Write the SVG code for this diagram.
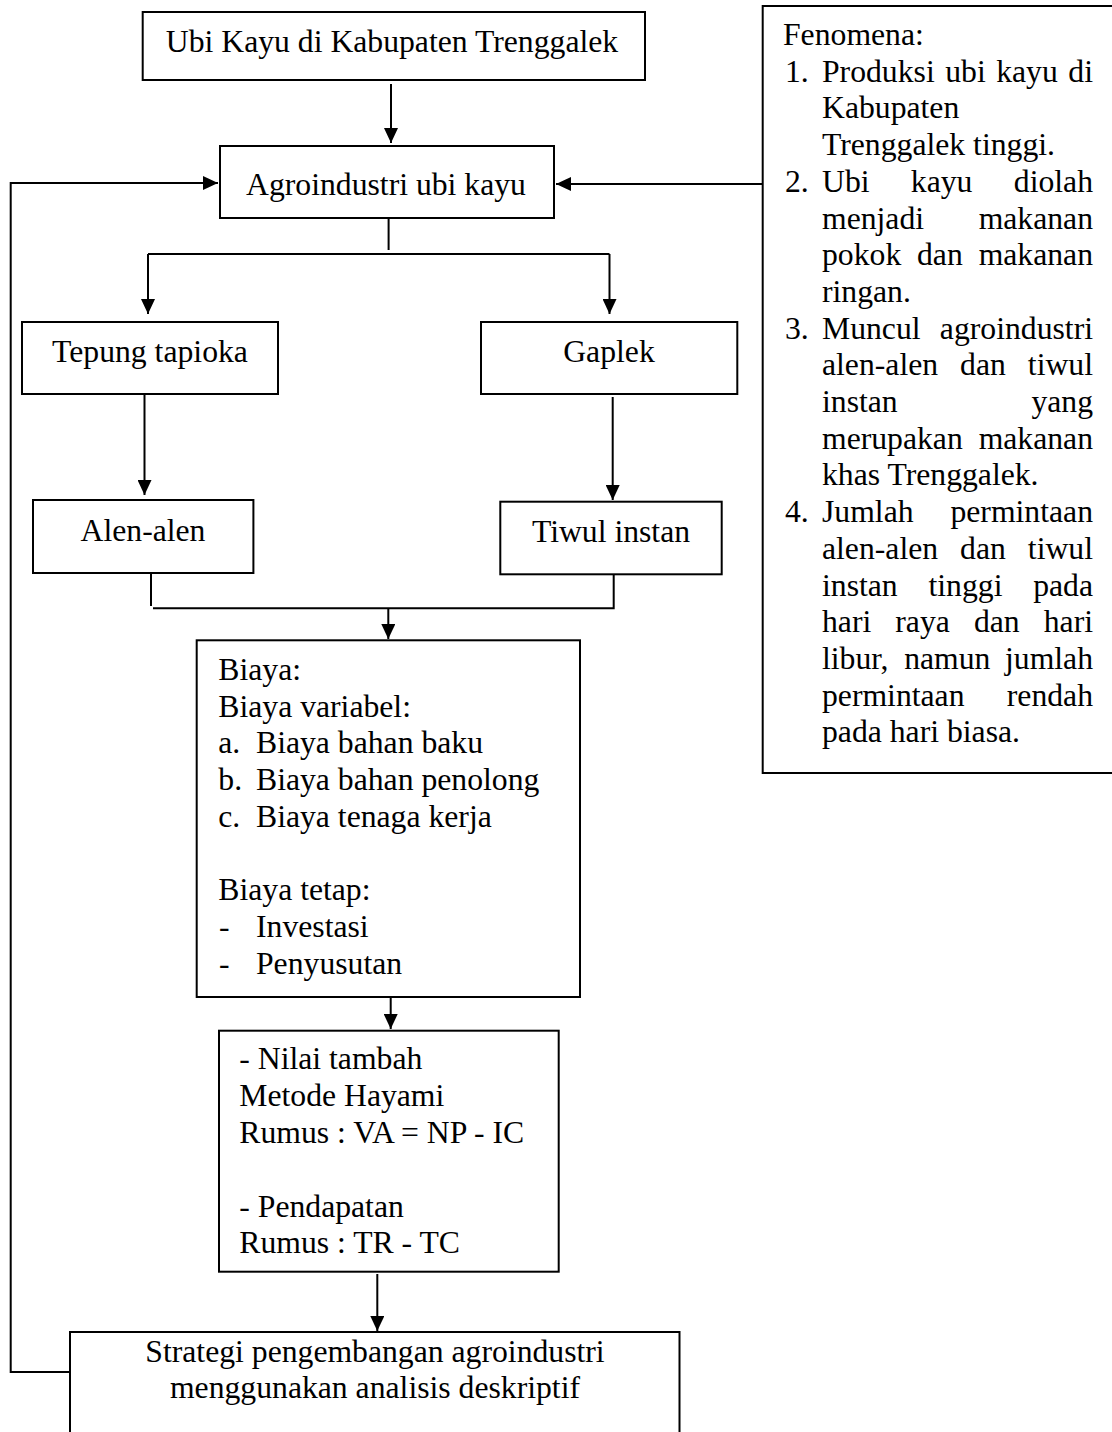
<svg xmlns="http://www.w3.org/2000/svg" width="1112" height="1432" viewBox="0 0 1112 1432">
<style>
.box{fill:#fff;stroke:#000;stroke-width:2}
.t{font-family:"Liberation Serif","Times New Roman",serif;font-size:31.7px;fill:#000}
.c{text-anchor:middle}
.e{text-anchor:end}
.ln{fill:none;stroke:#000;stroke-width:2}
</style>
<defs>
<marker id="ah" markerWidth="15" markerHeight="14" refX="15" refY="7" orient="auto" markerUnits="userSpaceOnUse">
<path d="M0,0 L15,7 L0,14 z" fill="#000"/>
</marker>
</defs>
<rect width="1112" height="1432" fill="#fff"/>

<g id="connectors">
<path class="ln" d="M391,84 V143" marker-end="url(#ah)"/>
<path class="ln" d="M70,1372 H10.7 V183 H218" marker-end="url(#ah)"/>
<path class="ln" d="M762.7,184 H556" marker-end="url(#ah)"/>
<path class="ln" d="M388.6,218 V250"/>
<path class="ln" d="M148,254 H609.5"/>
<path class="ln" d="M148,254 V314" marker-end="url(#ah)"/>
<path class="ln" d="M609.5,254 V314" marker-end="url(#ah)"/>
<path class="ln" d="M144.5,392 V495" marker-end="url(#ah)"/>
<path class="ln" d="M612.7,397 V500" marker-end="url(#ah)"/>
<path class="ln" d="M151,573 V606"/>
<path class="ln" d="M153,608.3 H613.7 V574"/>
<path class="ln" d="M388.3,608.3 V639" marker-end="url(#ah)"/>
<path class="ln" d="M390.7,997 V1029" marker-end="url(#ah)"/>
<path class="ln" d="M377.3,1274 V1331" marker-end="url(#ah)"/>
</g>

<g id="node-ubikayu">
<rect class="box" x="142.7" y="12" width="502.3" height="68"/>
<text class="t c" x="392" y="52">Ubi Kayu di Kabupaten Trenggalek</text>
</g>

<g id="node-agroindustri">
<rect class="box" x="220" y="146" width="334" height="72"/>
<text class="t c" x="386" y="195">Agroindustri ubi kayu</text>
</g>

<g id="node-tepung">
<rect class="box" x="22" y="322" width="256" height="72"/>
<text class="t c" x="150" y="362">Tepung tapioka</text>
</g>

<g id="node-gaplek">
<rect class="box" x="481" y="322" width="256.3" height="72"/>
<text class="t c" x="609" y="362">Gaplek</text>
</g>

<g id="node-alen">
<rect class="box" x="33" y="500" width="220.4" height="73"/>
<text class="t c" x="143" y="541">Alen-alen</text>
</g>

<g id="node-tiwul">
<rect class="box" x="500.3" y="501.7" width="221.4" height="72.6"/>
<text class="t c" x="611" y="542">Tiwul instan</text>
</g>

<g id="node-biaya">
<rect class="box" x="196.7" y="640.3" width="383.3" height="356.7"/>
<text class="t" x="218.3" y="680">Biaya:</text>
<text class="t" x="218.3" y="716.7">Biaya variabel:</text>
<text class="t" x="218.3" y="753.4">a.<tspan x="256">Biaya bahan baku</tspan></text>
<text class="t" x="218.3" y="790.1">b.<tspan x="256">Biaya bahan penolong</tspan></text>
<text class="t" x="218.3" y="826.8">c.<tspan x="256">Biaya tenaga kerja</tspan></text>
<text class="t" x="218.3" y="900.2">Biaya tetap:</text>
<text class="t" x="219" y="936.9">-<tspan x="256">Investasi</tspan></text>
<text class="t" x="219" y="973.6">-<tspan x="256">Penyusutan</tspan></text>
</g>

<g id="node-nilai">
<rect class="box" x="219" y="1030.7" width="339.7" height="241"/>
<text class="t" x="239.3" y="1069">- Nilai tambah</text>
<text class="t" x="239.3" y="1106">Metode Hayami</text>
<text class="t" x="239.3" y="1143">Rumus : VA = NP - IC</text>
<text class="t" x="239.3" y="1217">- Pendapatan</text>
<text class="t" x="239.3" y="1253">Rumus : TR - TC</text>
</g>

<g id="node-strategi">
<rect class="box" x="70" y="1332" width="609.5" height="120"/>
<text class="t c" x="375" y="1362">Strategi pengembangan agroindustri</text>
<text class="t c" x="375" y="1398">menggunakan analisis deskriptif</text>
</g>

<g id="node-fenomena">
<rect class="box" x="762.7" y="6" width="360" height="767"/>
<text class="t" x="783" y="45">Fenomena:</text>
<text class="t" y="81.7"><tspan x="785">1.</tspan><tspan x="822">Produksi</tspan><tspan x="945.2">ubi</tspan><tspan x="996.2">kayu</tspan><tspan x="1093" text-anchor="end">di</tspan></text>
<text class="t" x="822" y="118.4">Kabupaten</text>
<text class="t" x="822" y="155.1">Trenggalek tinggi.</text>
<text class="t" y="191.8"><tspan x="785">2.</tspan><tspan x="822">Ubi</tspan><tspan x="910.8">kayu</tspan><tspan x="1093" text-anchor="end">diolah</tspan></text>
<text class="t" y="228.5"><tspan x="822">menjadi</tspan><tspan x="1093" text-anchor="end">makanan</tspan></text>
<text class="t" y="265.2"><tspan x="822">pokok</tspan><tspan x="917">dan</tspan><tspan x="1093" text-anchor="end">makanan</tspan></text>
<text class="t" x="822" y="301.9">ringan.</text>
<text class="t" y="338.6"><tspan x="785">3.</tspan><tspan x="822">Muncul</tspan><tspan x="1093" text-anchor="end">agroindustri</tspan></text>
<text class="t" y="375.3"><tspan x="822">alen-alen</tspan><tspan x="960.1">dan</tspan><tspan x="1093" text-anchor="end">tiwul</tspan></text>
<text class="t" y="412"><tspan x="822">instan</tspan><tspan x="1093" text-anchor="end">yang</tspan></text>
<text class="t" y="448.7"><tspan x="822">merupakan</tspan><tspan x="1093" text-anchor="end">makanan</tspan></text>
<text class="t" x="822" y="485.4">khas Trenggalek.</text>
<text class="t" y="522.1"><tspan x="785">4.</tspan><tspan x="822">Jumlah</tspan><tspan x="1093" text-anchor="end">permintaan</tspan></text>
<text class="t" y="558.8"><tspan x="822">alen-alen</tspan><tspan x="960.1">dan</tspan><tspan x="1093" text-anchor="end">tiwul</tspan></text>
<text class="t" y="595.5"><tspan x="822">instan</tspan><tspan x="928.5">tinggi</tspan><tspan x="1093" text-anchor="end">pada</tspan></text>
<text class="t" y="632.2"><tspan x="822">hari</tspan><tspan x="895.3">raya</tspan><tspan x="973.9">dan</tspan><tspan x="1093" text-anchor="end">hari</tspan></text>
<text class="t" y="668.9"><tspan x="822">libur,</tspan><tspan x="904.2">namun</tspan><tspan x="1093" text-anchor="end">jumlah</tspan></text>
<text class="t" y="705.6"><tspan x="822">permintaan</tspan><tspan x="1093" text-anchor="end">rendah</tspan></text>
<text class="t" x="822" y="742.3">pada hari biasa.</text>
</g>
</svg>
